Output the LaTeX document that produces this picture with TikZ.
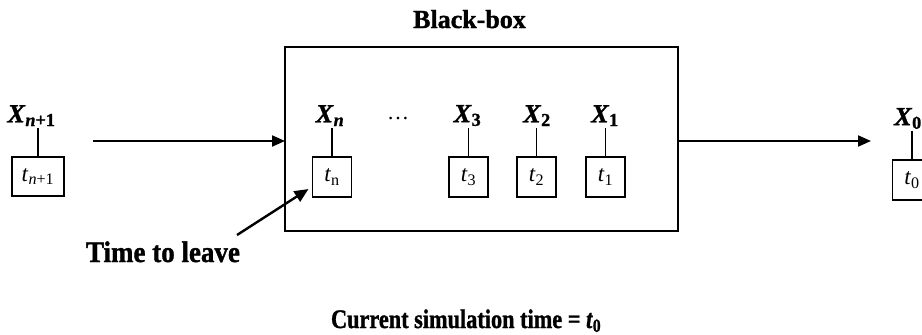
\documentclass[tikz,border=0pt]{standalone}
\usepackage{fontspec}
\setmainfont{Liberation Serif}[BoldFeatures={FakeBold=1.3}, BoldItalicFeatures={FakeBold=1.3}]
\usetikzlibrary{arrows.meta}

% item labels: X_i above, t_i in the box
\newcommand\xlab[1]{\textbf{\textit{X}}\textsubscript{\bfseries #1}}
\newcommand\tlab[1]{\textit{t}\textsubscript{#1}}

\tikzset{
  x=1pt, y=-1pt,
  every node/.style={inner sep=0pt, outer sep=0pt},
  tbox/.style={draw, line width=1.6pt, minimum width=39pt, minimum height=40pt,
               font=\fontsize{23}{26}\selectfont},
  xlabel/.style={anchor=south, inner sep=2pt, font=\fontsize{26}{30}\selectfont},
  stem/.style={line width=1.6pt},
  flow/.style={line width=2pt, -{Triangle[length=13pt,width=11pt]}},
  caption/.style={font=\fontsize{26}{30}\selectfont\bfseries}
}

\begin{document}
\begin{tikzpicture}
\useasboundingbox (0,0) rectangle (922,335);
\clip (0,0) rectangle (922,335);

% the black box and its title
\node[draw, line width=1.8pt, minimum width=393pt, minimum height=184pt] (bb) at (481.5,139) {};
\node[caption, anchor=base] (title) at (469.5,28) {Black-box};

% item entering the box
\node[tbox, minimum width=52pt, minimum height=39pt] (tn1) at (38,176.5) {\tlab{\textit{n}+1}};
\node[xlabel] (xn1) at (31.5,128) {\xlab{\textit{n}+1}};
\draw[stem] (tn1.north) -- (tn1.north |- xn1.south);

% items inside the box
\node[tbox] (tn) at (332,177) {\tlab{n}};
\node[xlabel] (xn) at (330,128) {\xlab{\textit{n}}};
\draw[stem] (tn.north) -- (tn.north |- xn.south);

\node[anchor=base, font=\fontsize{22}{26}\selectfont] (dots) at (398,119) {\dots};

\node[tbox] (t3) at (468.5,177) {\tlab{3}};
\node[xlabel] (x3) at (467.5,128) {\xlab{3}};
\draw[stem] (t3.north) -- (t3.north |- x3.south);

\node[tbox] (t2) at (536.5,177) {\tlab{2}};
\node[xlabel] (x2) at (537,128) {\xlab{2}};
\draw[stem] (t2.north) -- (t2.north |- x2.south);

\node[tbox] (t1) at (605.5,177) {\tlab{1}};
\node[xlabel] (x1) at (605,128) {\xlab{1}};
\draw[stem] (t1.north) -- (t1.north |- x1.south);

% item that has left the box
\node[tbox] (t0) at (912,180) {\tlab{0}};
\node[xlabel] (x0) at (908,131) {\xlab{0}};
\draw[stem] (t0.north) -- (t0.north |- x0.south);

% flow into and out of the box
\coordinate (inL) at (93,141);
\coordinate (outR) at (871,141);
\draw[flow] (inL) -- (bb.west |- inL);
\draw[flow] (bb.east |- outR) -- (outR);

% annotation of the departure time
\node[anchor=base west] (ttl) at (86,262)
  {\scalebox{1}[1.1]{\fontsize{27}{30}\selectfont\bfseries Time to leave}};
\coordinate (ttlstart) at (237,235);
\draw[line width=2.4pt, -{Triangle[length=14pt,width=12pt]}]
  (ttlstart) -- ([shift={(-4,-8)}]tn.south west);

% simulation clock
\node[anchor=base west] (clock) at (331,328)
  {\scalebox{1}[1.2]{\fontsize{22.3}{26}\selectfont\bfseries Current simulation time = \textit{t}\textsubscript{0}}};
\end{tikzpicture}
\end{document}
